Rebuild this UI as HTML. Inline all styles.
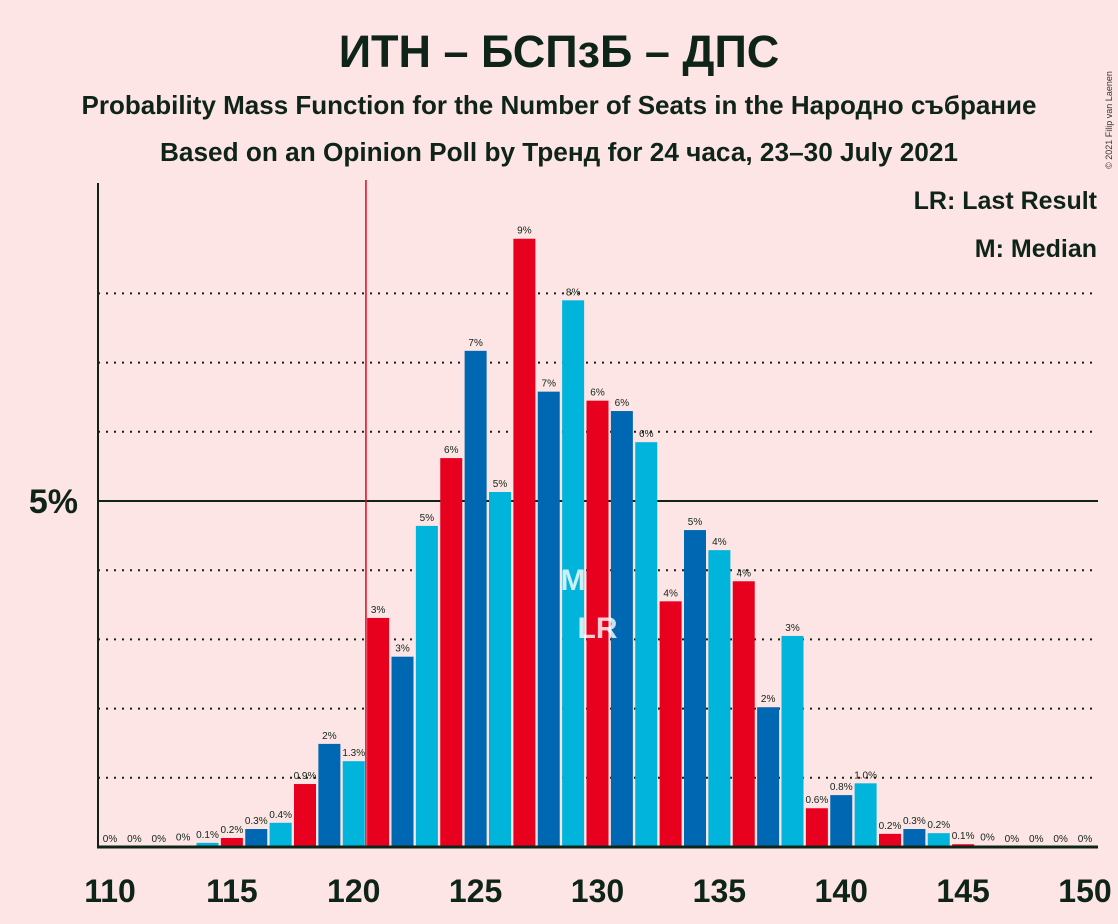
<!DOCTYPE html>
<html><head><meta charset="utf-8"><style>
html,body{margin:0;padding:0;background:#fde5e5;}
svg{display:block;font-family:"Liberation Sans","Noto Sans CJK SC",sans-serif;}
</style></head><body>
<svg id="chart" width="1118" height="924" viewBox="0 0 1118 924" xmlns="http://www.w3.org/2000/svg">
<rect width="1118" height="924" fill="#fde5e5"/>
<text x="559" y="67" text-anchor="middle" font-size="45" font-weight="bold" fill="#0f2419">ИТН – БСПзБ – ДПС</text>
<text x="559" y="114" text-anchor="middle" font-size="26" font-weight="bold" fill="#0f2419">Probability Mass Function for the Number of Seats in the Народно събрание</text>
<text x="559" y="161" text-anchor="middle" font-size="26.2" font-weight="bold" fill="#0f2419">Based on an Opinion Poll by Тренд for 24 часа, 23–30 July 2021</text>
<text x="1112" y="120" font-size="9" fill="#333" transform="rotate(-90 1112 120)" text-anchor="middle">© 2021 Filip van Laenen</text>
<text x="1097" y="209" text-anchor="end" font-size="25" font-weight="bold" fill="#0f2419">LR: Last Result</text>
<text x="1097" y="257" text-anchor="end" font-size="25" font-weight="bold" fill="#0f2419">M: Median</text>
<g id="grid"></g>
<g id="bars"></g>
<g id="labels"></g>
<line x1="98" y1="183" x2="98" y2="848" stroke="#0f2419" stroke-width="2"/>
<line x1="97" y1="847" x2="1098" y2="847" stroke="#0f2419" stroke-width="3"/>
<text x="78" y="513" text-anchor="end" font-size="34" font-weight="bold" fill="#0f2419">5%</text>
<g id="xticks"></g>
</svg>
<script>
const seats = [110,111,112,113,114,115,116,117,118,119,120,121,122,123,124,125,126,127,128,129,130,131,132,133,134,135,136,137,138,139,140,141,142,143,144,145,146,147,148,149,150];
const probs = [0,0,0,0.02,0.06,0.13,0.26,0.35,0.91,1.49,1.24,3.31,2.75,4.64,5.62,7.17,5.13,8.79,6.58,7.9,6.45,6.3,5.85,3.55,4.58,4.29,3.84,2.02,3.05,0.56,0.75,0.92,0.19,0.26,0.2,0.04,0.02,0,0,0,0];
const printed = ["0%","0%","0%","0%","0.1%","0.2%","0.3%","0.4%","0.9%","2%","1.3%","3%","3%","5%","6%","7%","5%","9%","7%","8%","6%","6%","6%","4%","5%","4%","4%","2%","3%","0.6%","0.8%","1.0%","0.2%","0.3%","0.2%","0.1%","0%","0%","0%","0%","0%"];
const xTicks = [110,115,120,125,130,135,140,145,150];
const gridLevels = [1,2,3,4,6,7,8];
const majorityLine = 120.5;
const medianSeat = 129;
const lastResultSeat = 130;

const NS="http://www.w3.org/2000/svg";
const X = s => 110 + (s-110)*24.375;
const Y = p => 847 - p*69.2;
const colors = ["#00b4dc","#e8001f","#0068b3"];
function mk(tag, attrs, parent){const e=document.createElementNS(NS,tag);for(const k in attrs)e.setAttribute(k,attrs[k]);parent.appendChild(e);return e;}
const grid=document.getElementById('grid'), bars=document.getElementById('bars'), labels=document.getElementById('labels'), xt=document.getElementById('xticks');
gridLevels.forEach(g=>{
  const l=mk('line',{x1:98,x2:1098,y1:Y(g),y2:Y(g),stroke:'#0f2419','stroke-width':2,'stroke-dasharray':'2,6'},grid);
  
  
});
const l5=mk('line',{x1:98,x2:1098,y1:Y(5),y2:Y(5),stroke:'#0f2419','stroke-width':2},grid);


const ml=mk('line',{x1:X(majorityLine),x2:X(majorityLine),y1:180,y2:847,stroke:'#e8001f','stroke-width':1.5},grid);


seats.forEach((s,i)=>{
  const p=probs[i];
  if(p>0){
    const r=mk('rect',{x:X(s)-11,y:Y(p),width:22,height:847-Y(p),fill:colors[s%3]},bars);
    
    
  }
  const t=mk('text',{x:X(s),y:Y(p)-5,'text-anchor':'middle','font-size':10,fill:'#0f2419'},labels);
  t.textContent=printed[i];
  
  
});
const mt=mk('text',{x:X(medianSeat),y:590,'text-anchor':'middle','font-size':30,'font-weight':'bold',fill:'#ffffff','fill-opacity':0.8},labels);
mt.textContent='M';


const lt=mk('text',{x:X(lastResultSeat),y:638,'text-anchor':'middle','font-size':30,'font-weight':'bold',fill:'#ffffff','fill-opacity':0.8},labels);
lt.textContent='LR';


xTicks.forEach(s=>{
  const t=mk('text',{x:X(s),y:902,'text-anchor':'middle','font-size':32,'font-weight':'bold',fill:'#0f2419'},xt);
  t.textContent=s;
  
  
});
</script>
</body></html>
